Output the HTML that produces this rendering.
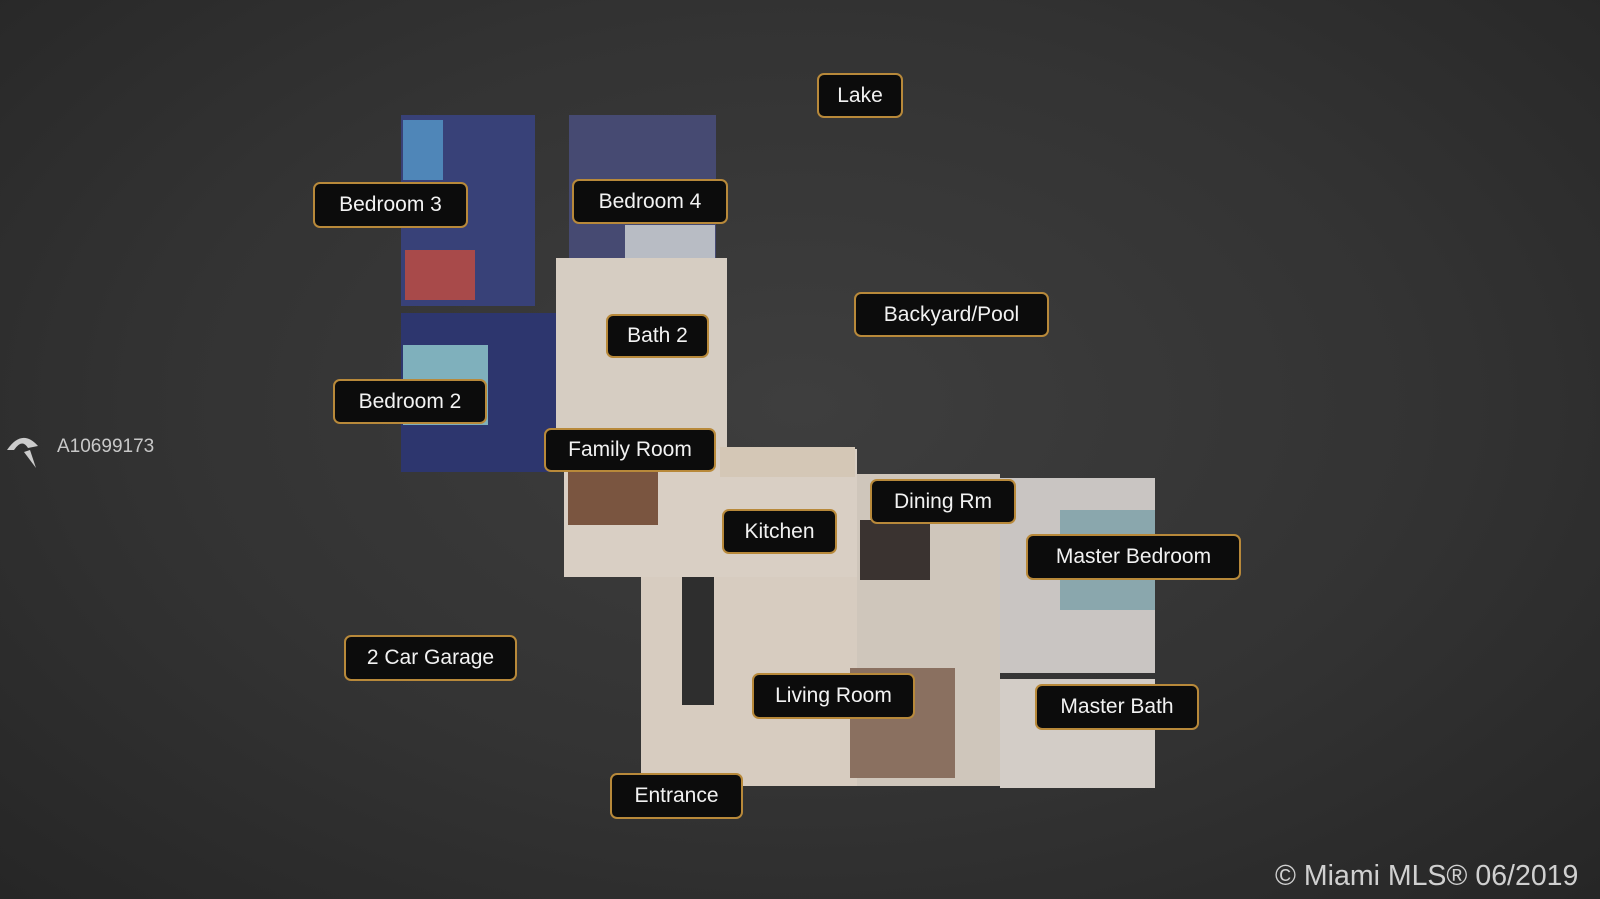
<!DOCTYPE html>
<html><head><meta charset="utf-8"><style>
body{margin:0;width:1600px;height:899px;overflow:hidden;background:radial-gradient(ellipse at 50% 45%,#3e3e3e 0%,#333 55%,#262626 100%);font-family:"Liberation Sans",sans-serif;position:relative}
.r{position:absolute}
.l{position:absolute;box-sizing:border-box;background:#0c0c0c;border:2px solid #b8893a;border-radius:7px;color:#f2f2f2;font-size:21px;display:flex;align-items:center;justify-content:center;white-space:nowrap}
</style></head><body>
<div class="r" style="left:401px;top:115px;width:134px;height:191px;background:#384178"></div>
<div class="r" style="left:403px;top:120px;width:40px;height:60px;background:#4f86b8"></div>
<div class="r" style="left:405px;top:250px;width:70px;height:50px;background:#a84a4a"></div>
<div class="r" style="left:569px;top:115px;width:147px;height:143px;background:#464a72"></div>
<div class="r" style="left:625px;top:225px;width:90px;height:33px;background:#b8bcc4"></div>
<div class="r" style="left:401px;top:313px;width:155px;height:159px;background:#2d366e"></div>
<div class="r" style="left:403px;top:345px;width:85px;height:80px;background:#7fb0bc"></div>
<div class="r" style="left:556px;top:258px;width:171px;height:191px;background:#d6cdc2"></div>
<div class="r" style="left:564px;top:449px;width:293px;height:128px;background:#d9cfc4"></div>
<div class="r" style="left:568px;top:470px;width:90px;height:55px;background:#7a5540"></div>
<div class="r" style="left:720px;top:447px;width:135px;height:30px;background:#d4c7b6"></div>
<div class="r" style="left:641px;top:577px;width:216px;height:209px;background:#d7ccc0"></div>
<div class="r" style="left:682px;top:577px;width:32px;height:128px;background:#2e2e2e"></div>
<div class="r" style="left:857px;top:474px;width:143px;height:312px;background:#cfc6bb"></div>
<div class="r" style="left:860px;top:520px;width:70px;height:60px;background:#3a3330"></div>
<div class="r" style="left:850px;top:668px;width:105px;height:110px;background:#8a7060"></div>
<div class="r" style="left:1000px;top:478px;width:155px;height:195px;background:#c9c5c2"></div>
<div class="r" style="left:1060px;top:510px;width:95px;height:100px;background:#8aa7ad"></div>
<div class="r" style="left:1000px;top:679px;width:155px;height:109px;background:#d3cdc7"></div>
<div class="l" style="left:817px;top:73px;width:86px;height:45px">Lake</div>
<div class="l" style="left:313px;top:182px;width:155px;height:46px">Bedroom 3</div>
<div class="l" style="left:572px;top:179px;width:156px;height:45px">Bedroom 4</div>
<div class="l" style="left:854px;top:292px;width:195px;height:45px">Backyard/Pool</div>
<div class="l" style="left:606px;top:314px;width:103px;height:44px">Bath 2</div>
<div class="l" style="left:333px;top:379px;width:154px;height:45px">Bedroom 2</div>
<div class="l" style="left:544px;top:428px;width:172px;height:44px">Family Room</div>
<div class="l" style="left:870px;top:479px;width:146px;height:45px">Dining Rm</div>
<div class="l" style="left:722px;top:509px;width:115px;height:45px">Kitchen</div>
<div class="l" style="left:1026px;top:534px;width:215px;height:46px">Master Bedroom</div>
<div class="l" style="left:344px;top:635px;width:173px;height:46px">2 Car Garage</div>
<div class="l" style="left:752px;top:673px;width:163px;height:46px">Living Room</div>
<div class="l" style="left:1035px;top:684px;width:164px;height:46px">Master Bath</div>
<div class="l" style="left:610px;top:773px;width:133px;height:46px">Entrance</div>
<svg class="r" style="left:4px;top:428px" width="38" height="42"><path d="M3 22 Q18 0 34 18 L24 20 Q18 10 10 22 Z M20 24 L32 40 L26 22 Z" fill="#ccc"/></svg>
<div class="r" style="left:57px;top:436px;color:#c8c8c8;font-size:19px">A10699173</div>
<div class="r" style="left:1275px;top:860px;color:#d0d0d0;font-size:28.5px">© Miami MLS® 06/2019</div>
</body></html>
